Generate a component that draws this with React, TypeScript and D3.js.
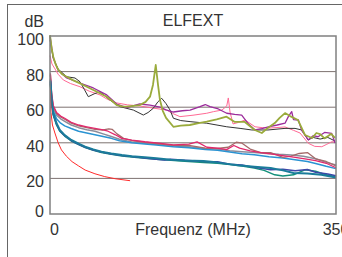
import * as d3 from 'd3'

// Axis ticks
const Y_TICKS = [0, 20, 40, 60, 80, 100]
const X_MIN = 0
const X_MAX = 350

type Pt = [number, number]

// Upper group (noisy far-end crosstalk)
const OLIVE: Pt[] = [[0, 100.5], [2, 93], [4, 88.4], [7, 84], [10.2, 80.9], [15, 78.5], [20.4, 77.1], [28, 75.2], [36.7, 73.4], [45, 71.5], [53, 69.7], [61, 67.8], [69.4, 65.9], [76, 63.5], [81.6, 61.2], [88, 60.5], [93.9, 60.3], [102, 60.8], [110, 61.2], [117, 63], [122.4, 65.9], [126, 72.5], [129.4, 83.7], [132.2, 72.5], [134.6, 64], [138, 58], [142, 54], [151, 49], [160, 49.6], [171, 50], [182, 51], [191.8, 51.9], [204, 53.2], [216, 54.7], [226.2, 51.7], [238.4, 51.7], [250.6, 47.2], [259.2, 45.5], [267, 48.5], [275.1, 51.1], [281, 54], [287.6, 56.7], [293.8, 55], [303.5, 52.8], [312, 44.4], [320.7, 42.7], [326, 45.5], [330.5, 44.9], [336, 42.5], [340.3, 43.8], [344, 45], [348.8, 42.7]]
const BLACK: Pt[] = [[0, 97.8], [4, 87.6], [9.8, 81.5], [20.4, 77.1], [30.6, 76.4], [36.7, 74.3], [42, 70], [46.9, 65.9], [54, 67.5], [61.2, 68.7], [73.4, 64], [85.7, 60.3], [102, 58.4], [114.2, 55.6], [120, 57], [126.4, 59.4], [132, 63], [136.7, 65], [142, 62], [146.9, 58.4], [151, 53.8], [160, 52.5], [171.4, 51.9], [191.8, 51], [216.3, 49], [232.6, 48.1], [246.9, 47.2], [266.8, 47.2], [287.6, 48.1], [299.9, 48.1], [308, 47.2], [315.8, 41.6], [322, 43], [330.5, 42.1], [340, 43], [348.8, 41]]
const PURPLE: Pt[] = [[0, 100], [4, 87.6], [9.8, 80.9], [20.4, 76.4], [36.7, 73.6], [53, 70.8], [69.4, 66.9], [81.6, 61.8], [93.9, 59.8], [110, 61.8], [122.4, 61.2], [134.6, 60.1], [142, 58.5], [151, 57.3], [162, 58], [171.4, 58.4], [183.6, 60.3], [190, 61.5], [195.8, 60.3], [206, 59], [216.3, 56.6], [226, 56], [234.6, 55.6], [242, 51], [250.9, 47.2], [259, 48], [267.2, 49], [278, 50], [287.6, 51], [292, 55], [295.8, 57.5], [298, 53], [303.9, 52.8], [308, 47], [316.2, 41.6], [322, 44], [328, 43.4], [336, 45.8], [344.8, 45.3], [348.8, 39.9]]
const PINK: Pt[] = [[0, 89], [2.4, 84.3], [6.1, 81.5], [10, 78.5], [16.3, 75.3], [25, 73.3], [36.7, 71.5], [48, 69], [61.2, 66.9], [70, 64.5], [81.6, 62.4], [95, 61.3], [110, 60.7], [126, 59.5], [142.8, 58.4], [150, 56.5], [159, 54.7], [175, 55.5], [191.8, 56.6], [200, 57.5], [210.5, 58.4], [216.3, 60.7], [218.2, 65.2], [220.3, 57.3], [224, 50.6], [231, 51.5], [238.7, 52.8], [250.9, 49], [260, 48.5], [269.3, 48.3], [287.6, 48.9], [298, 47], [306, 45.5], [316.2, 39.7], [324, 38], [332.6, 37.8], [338, 39], [344.8, 40.6], [348.8, 40.4]]

// Middle group
const CRIMSON: Pt[] = [[0.5, 79], [2, 68], [4, 61], [8, 57], [13, 55], [18, 53.8], [26, 51.5], [35, 50], [45, 49], [55, 48.1], [65, 47.2], [71, 46.5], [80, 44.5], [88, 42.5], [100, 41.5], [116, 40.6], [130, 40], [151, 38.8], [170, 39.2], [180, 40.5], [192, 37.5], [205, 37], [216, 36.2], [225, 38.5], [232, 37], [245, 35.5], [258, 34.5], [270, 33.8], [285, 32.8], [298, 32], [312, 31], [325, 30], [338, 28.5], [350, 26]]
const BROWN: Pt[] = [[0.5, 78], [2, 67], [4, 60.5], [8, 56.5], [13, 54.5], [18, 53.2], [26, 51], [35, 49.5], [45, 48.5], [55, 47.5], [65, 47.2], [72, 47.8], [76, 47.6], [82, 45], [90, 42.5], [100, 41.3], [116, 40.3], [130, 39.6], [151, 38.6], [170, 38.5], [190, 37], [205, 36.8], [218, 37.5], [228, 40.3], [235, 39.8], [245, 36.5], [258, 34.5], [270, 34.5], [285, 31.8], [295, 32.5], [305, 34], [315, 34.5], [325, 31], [338, 29.5], [350, 27]]
const GRAY: Pt[] = [[0.5, 76], [2, 66], [4, 59.5], [8, 55.5], [13, 53.5], [18, 52], [26, 50], [35, 48.5], [45, 47.3], [55, 46.5], [65, 45], [75, 43.5], [85, 42], [100, 40.5], [116, 39.8], [130, 39.2], [151, 38.2], [170, 37.8], [190, 36.8], [205, 36.5], [220, 35.5], [235, 35], [250, 34.5], [265, 34], [280, 33.5], [295, 33.2], [310, 32.5], [325, 31], [338, 29], [350, 27.5]]
const LIGHTBLUE: Pt[] = [[0.5, 74], [2, 64], [4, 58], [8, 53.5], [13, 51], [18, 49.5], [26, 48], [35, 46.5], [45, 45.5], [55, 44.5], [65, 43.5], [75, 42.5], [85, 41.2], [100, 40], [116, 39.3], [130, 38.8], [151, 37.8], [170, 37.2], [190, 36.3], [205, 35.8], [220, 34.8], [235, 33.8], [250, 33.3], [268, 32.2], [285, 31.5], [302, 30.3], [315, 29.5], [325, 28.4], [338, 26.8], [350, 25.5]]

// Lower group
const TEAL: Pt[] = [[0.5, 75], [2, 64], [4, 56.6], [8, 51], [12, 47.2], [18, 44.3], [26, 41.6], [35, 39.5], [43, 37.8], [53, 36.3], [63, 35], [75, 34], [88, 33.1], [100, 32.5], [116, 31.9], [130, 31.3], [148, 30.5], [165, 30], [188, 29.8], [200, 29.2], [215, 28.3], [230, 27.4], [250, 26.6], [270, 25.8], [285, 24.5], [298, 23], [315, 22.8], [332, 22.1], [350, 20.5]]
const DARKBLUE: Pt[] = [[0.5, 74], [2, 63.5], [4, 56], [8, 50.5], [12, 46.8], [18, 44], [26, 41.3], [35, 39.2], [43, 37.5], [53, 36], [63, 34.8], [75, 33.7], [88, 32.8], [100, 32.3], [116, 31.5], [130, 30.8], [140, 30.3], [148, 30.8], [165, 30.2], [188, 29.5], [205, 29.3], [220, 28], [235, 27.5], [250, 26.2], [270, 24.8], [285, 25.2], [300, 24.3], [315, 25], [325, 23.5], [340, 22.5], [350, 21.5]]
const GREEN: Pt[] = [[0.5, 73], [2, 63], [4, 55.5], [8, 50], [12, 46.5], [18, 43.8], [26, 41], [35, 39], [43, 37.3], [53, 35.8], [63, 34.6], [75, 33.5], [88, 32.6], [100, 32], [116, 31.3], [130, 30.8], [148, 30.2], [165, 29.6], [188, 29], [205, 28.5], [220, 27.8], [235, 27], [250, 25.8], [262, 24.5], [275, 22], [285, 21.3], [298, 22], [312, 24.8], [325, 24], [338, 22], [350, 21]]
const RED: Pt[] = [[0.5, 70], [1.2, 57], [3, 50], [6, 45.5], [10, 40], [14, 36], [20, 32.5], [27, 29.4], [35, 27], [43, 24.7], [55, 22.6], [67, 21], [80, 19.8], [98, 18.7]]

const SERIES = [
  { data: PINK, color: '#ff6a95', width: 1 },
  { data: BLACK, color: '#333333', width: 1 },
  { data: PURPLE, color: '#9c2c9c', width: 1.3 },
  { data: OLIVE, color: '#9aab3c', width: 1.8 },
  { data: GRAY, color: '#8c8c9a', width: 1.5 },
  { data: LIGHTBLUE, color: '#2a93d2', width: 1.5 },
  { data: BROWN, color: '#a56a6a', width: 1.3 },
  { data: CRIMSON, color: '#e2286c', width: 1.3 },
  { data: GREEN, color: '#14907a', width: 1.5 },
  { data: DARKBLUE, color: '#3d47a8', width: 1.5 },
  { data: TEAL, color: '#1a7c9a', width: 2 },
  { data: RED, color: '#ff2a2a', width: 1 },
]

const W = 342
const H = 257
const margin = { left: 50, right: 6, top: 36, bottom: 43 }
const FONT = '"Liberation Sans", Arial, sans-serif'

export default function App() {
  const x = d3.scaleLinear().domain([X_MIN, X_MAX]).range([margin.left, W - margin.right])
  const y = d3.scaleLinear().domain([0, 100]).range([H - margin.bottom, margin.top])
  const line = d3.line<Pt>().x(d => x(d[0])).y(d => y(d[1]))

  return (
    <svg width={W} height={H} style={{ position: 'absolute', left: 0, top: 0, background: '#fff' }}>
      {/* outer frame */}
      <rect x={7.5} y={4.5} width={W} height={H} fill="none" stroke="#666" strokeWidth={1} />

      {/* grid */}
      {Y_TICKS.filter(v => v > 0 && v < 100).map(v => (
        <line key={v} x1={x(X_MIN)} x2={x(X_MAX)} y1={y(v)} y2={y(v)} stroke="#7d7270" strokeWidth={1} />
      ))}

      {/* series */}
      <g fill="none" strokeLinejoin="round">
        {SERIES.map((s, i) => (
          <path key={i} d={line(s.data) || ''} stroke={s.color} strokeWidth={s.width} />
        ))}
      </g>

      {/* plot frame */}
      <rect x={x(X_MIN)} y={y(100)} width={x(X_MAX) - x(X_MIN)} height={y(0) - y(100)}
        fill="none" stroke="#808080" strokeWidth={1.5} />

      {/* labels */}
      <g fontFamily={FONT} fontSize={16} fill="#333">
        {Y_TICKS.map(v => (
          <text key={v} x={44} y={Math.min(y(v) + 9, 216.5)} textAnchor="end">{v}</text>
        ))}
        <text x={44} y={26.5} textAnchor="end">dB</text>
        <text x={(x(X_MIN) + x(X_MAX)) / 2} y={26} textAnchor="middle">ELFEXT</text>
        <text x={x(X_MIN)} y={235} textAnchor="start">{X_MIN}</text>
        <text x={(x(X_MIN) + x(X_MAX)) / 2} y={235} textAnchor="middle">Frequenz (MHz)</text>
        <text x={x(X_MAX)} y={235} textAnchor="middle">{X_MAX}</text>
      </g>
    </svg>
  )
}
